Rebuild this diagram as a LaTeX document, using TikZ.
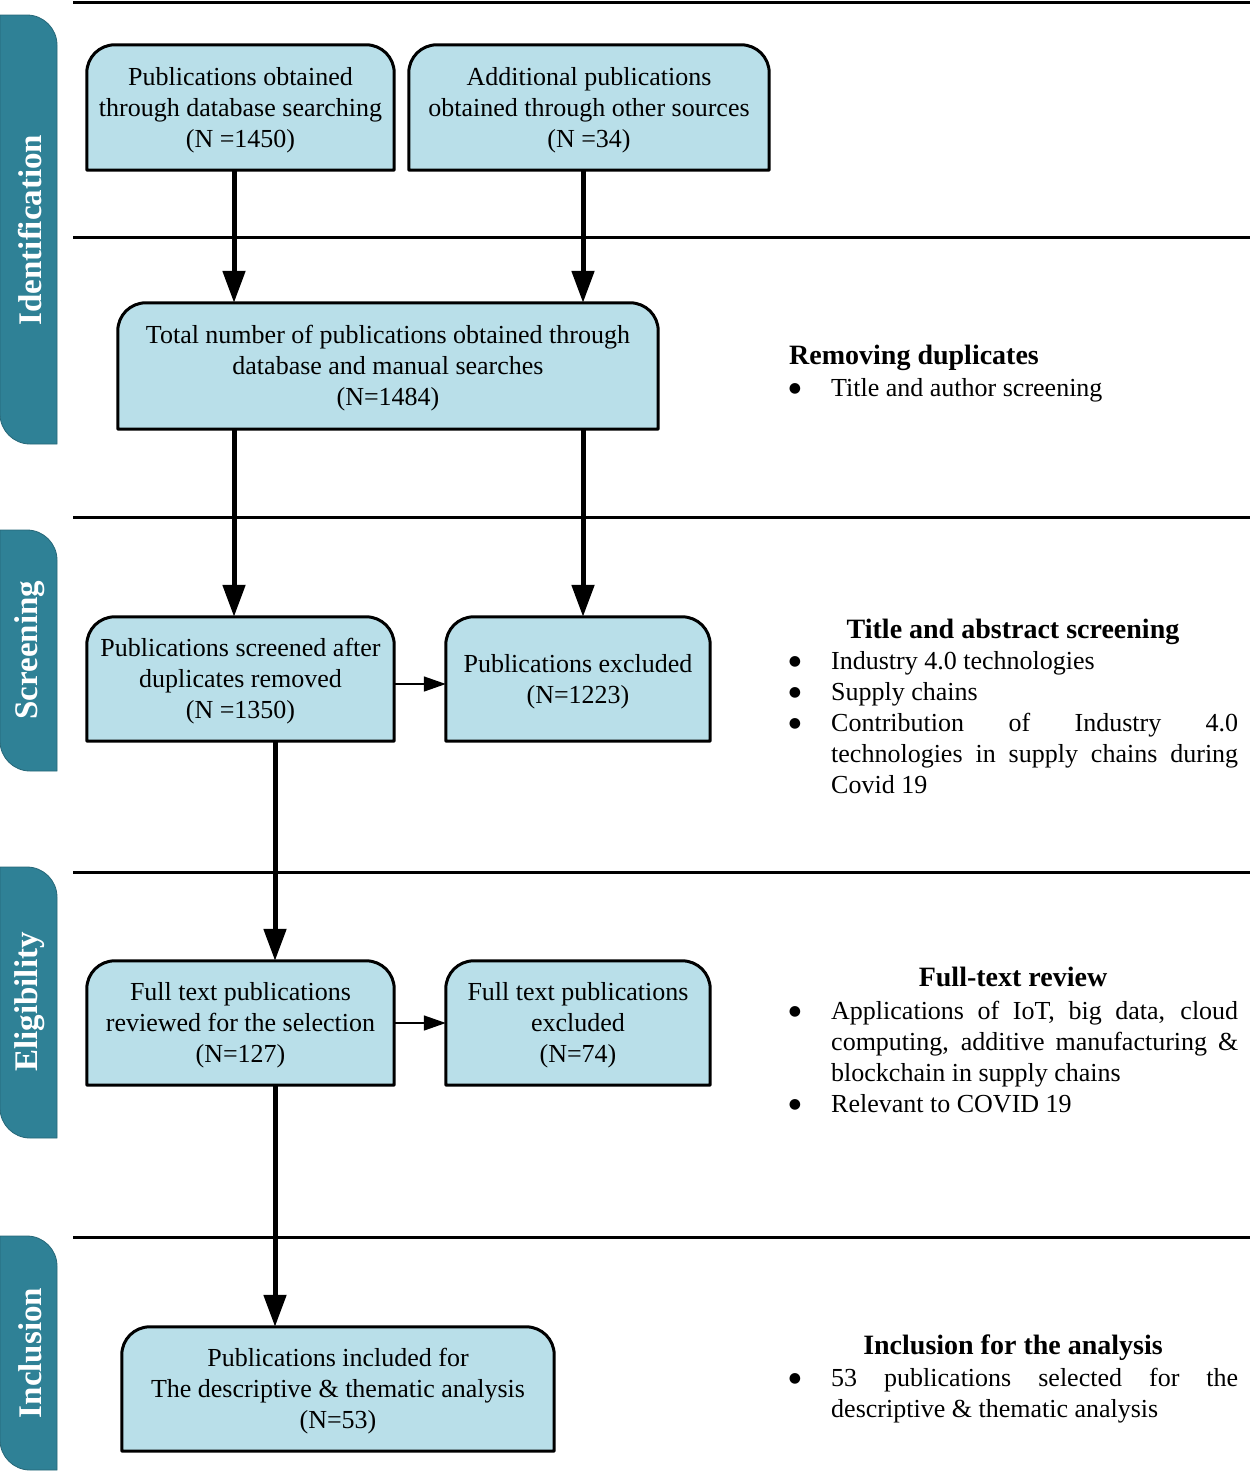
\documentclass[tikz,border=0pt]{standalone}
\usepackage{fontspec}
\setmainfont{Liberation Serif}
\newfontfamily\symfont{DejaVu Sans}
\usetikzlibrary{arrows.meta,calc,backgrounds}
\definecolor{tabc}{HTML}{2F8196}
\definecolor{boxc}{HTML}{B9DFE9}
\tikzset{
 pbox/.style={inner sep=0pt, align=center, font=\fontsize{26}{31}\selectfont},
 boxline/.style={draw=black, fill=boxc, line width=3pt, line join=round},
 bigarrow/.style={line width=5pt, -{Triangle[length=32pt,width=22pt]}},
 smallarrow/.style={line width=1.5pt, -{Triangle[length=22pt,width=15pt]}},
 sepline/.style={line width=3pt},
 tabfill/.style={fill=tabc, draw=tabc!80!black, line width=0.8pt},
 tablabel/.style={rotate=90, text=white, font=\fontsize{33}{33}\selectfont\bfseries, inner sep=0pt},
 head/.style={font=\fontsize{28}{31}\selectfont\bfseries, inner sep=0pt, anchor=base},
 itemtext/.style={inner sep=0pt, anchor=base west, font=\fontsize{26}{31}\selectfont},
 bul/.style={inner sep=0pt, anchor=base, font=\symfont\fontsize{14}{14}\selectfont},
}
\newcommand\topround[1]{%
 \path[boxline] (#1.south west) -- ($(#1.north west)+(0,28)$) .. controls ($(#1.north west)+(0,12.5)$) and ($(#1.north west)+(12.5,0)$) .. ($(#1.north west)+(28,0)$) -- ($(#1.north east)+(-28,0)$) .. controls ($(#1.north east)+(-12.5,0)$) and ($(#1.north east)+(0,12.5)$) .. ($(#1.north east)+(0,28)$) -- (#1.south east) -- cycle;}
\newcommand\sidetab[2]{%
 \path[tabfill] (0,#1) -- (27,#1) .. controls (43.5,#1) and (57,{#1+13.5}) .. (57,{#1+30}) -- (57,#2) -- (30,#2) .. controls (13.5,#2) and (0,{#2-13.5}) .. (0,{#2-30}) -- cycle;}
\newcommand\itembox[1]{\parbox[t]{407pt}{\fontsize{26}{31}\selectfont\emergencystretch=3em #1}}
\newcommand\tstrut{\rule{0pt}{23pt}}
\newcommand\bulsym{\raisebox{3.5pt}{●}}
\begin{document}
\begin{tikzpicture}[x=1pt,y=-1pt]
\useasboundingbox (0,0) rectangle (1250,1473);

% separators
\foreach \yy in {2,237,517,872,1237} \draw[sepline] (73,\yy) -- (1250,\yy);

% side tabs
\sidetab{15}{444}
\sidetab{530}{771}
\sidetab{867}{1138}
\sidetab{1236}{1470}
\node[tablabel] (tIdent) at (30,230) {Identification};
\node[tablabel] (tScreen) at (30,650) {Screening};
\node[tablabel] (tElig) at (30,1002) {Eligibility};
\node[tablabel] (tIncl) at (30,1353) {Inclusion};

% boxes
\node[pbox, minimum width=307pt, minimum height=125pt] (b1) at (240.5,107.5) {\tstrut Publications obtained\\through database searching\\(N =1450)};
\node[pbox, minimum width=360pt, minimum height=125pt] (b2) at (589,107.5) {\tstrut Additional publications\\obtained through other sources\\(N =34)};
\node[pbox, minimum width=540pt, minimum height=126pt] (b3) at (388,366) {\tstrut Total number of publications obtained through\\database and manual searches\\(N=1484)};
\node[pbox, minimum width=307pt, minimum height=124pt] (b4) at (240.5,679) {\tstrut Publications screened after\\duplicates removed\\(N =1350)};
\node[pbox, minimum width=264pt, minimum height=124pt] (b5) at (578,679) {\tstrut Publications excluded\\(N=1223)};
\node[pbox, minimum width=307pt, minimum height=124pt] (b6) at (240.5,1023) {\tstrut Full text publications\\reviewed for the selection\\(N=127)};
\node[pbox, minimum width=264pt, minimum height=124pt] (b7) at (578,1023) {\tstrut Full text publications\\excluded\\(N=74)};
\node[pbox, minimum width=432pt, minimum height=124pt] (b8) at (338,1389) {\tstrut Publications included for\\The descriptive \& thematic analysis\\(N=53)};

\begin{scope}[on background layer]
\foreach \bb in {b1,b2,b3,b4,b5,b6,b7,b8} {\topround{\bb}}
\end{scope}

% arrows
\coordinate (c1) at (234,0);
\coordinate (c2) at (583,0);
\coordinate (c3) at (275,0);
\draw[bigarrow] (b1.south -| c1) -- (b3.north -| c1);
\draw[bigarrow] (b2.south -| c2) -- (b3.north -| c2);
\draw[bigarrow] (b3.south -| c1) -- (b4.north -| c1);
\draw[bigarrow] (b3.south -| c2) -- (b5.north -| c2);
\draw[bigarrow] (b4.south -| c3) -- (b6.north -| c3);
\draw[bigarrow] (b6.south -| c3) -- (b8.north -| c3);
\draw[smallarrow] ([yshift=-5pt]b4.east) -- ([yshift=-5pt]b4.east -| b5.west);
\draw[smallarrow] (b6.east) -- (b7.west);

% right-hand notes
\node[head, anchor=base west] (h1) at (789,364) {Removing duplicates};
\node[bul] (d1) at (795,396) {\bulsym};
\node[itemtext] (i1) at (831,396) {\itembox{Title and author screening}};

\node[head] (h2) at (1013,638) {Title and abstract screening};
\node[bul] (d2a) at (795,669) {\bulsym};
\node[itemtext] (i2a) at (831,669) {\itembox{Industry 4.0 technologies}};
\node[bul] (d2b) at (795,700) {\bulsym};
\node[itemtext] (i2b) at (831,700) {\itembox{Supply chains}};
\node[bul] (d2c) at (795,731) {\bulsym};
\node[itemtext] (i2c) at (831,731) {\itembox{Contribution of Industry 4.0\linebreak technologies in supply chains during\linebreak Covid 19}};

\node[head] (h3) at (1013,986) {Full-text review};
\node[bul] (d3a) at (795,1019) {\bulsym};
\node[itemtext] (i3a) at (831,1019) {\itembox{Applications of IoT, big data, cloud\linebreak computing, additive manufacturing \&\linebreak blockchain in supply chains}};
\node[bul] (d3b) at (795,1112) {\bulsym};
\node[itemtext] (i3b) at (831,1112) {\itembox{Relevant to COVID 19}};

\node[head] (h4) at (1013,1354) {Inclusion for the analysis};
\node[bul] (d4) at (795,1386) {\bulsym};
\node[itemtext] (i4) at (831,1386) {\itembox{53 publications selected for the\linebreak descriptive \& thematic analysis}};
\end{tikzpicture}
\end{document}
